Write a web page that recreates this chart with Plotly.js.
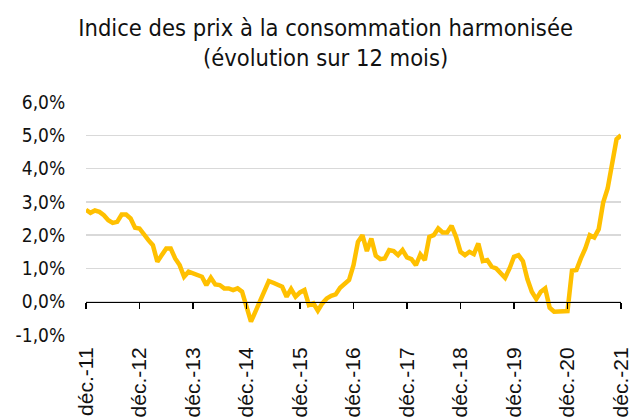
<!DOCTYPE html>
<html>
<head>
<meta charset="utf-8">
<script src="https://cdn.plot.ly/plotly-3.0.1.min.js"></script>
<style>html,body{margin:0;padding:0;background:#fff;}#chart{width:641px;height:419px;}</style>
</head>
<body>
<div id="chart"></div>
<script>
// Monthly values, déc. 2011 → déc. 2021 (évolution sur 12 mois, %)
const v2011 = [2.76];
const v2012 = [2.67, 2.74, 2.70, 2.60, 2.45, 2.37, 2.40, 2.62, 2.62, 2.50, 2.22, 2.20];
const v2013 = [2.00, 1.85, 1.70, 1.20, 1.40, 1.60, 1.60, 1.30, 1.10, 0.75, 0.90, 0.85];
const v2014 = [0.80, 0.75, 0.50, 0.72, 0.52, 0.50, 0.40, 0.40, 0.35, 0.40, 0.30, -0.15];
const v2015 = [-0.60, -0.30, 0.00, 0.30, 0.62, 0.57, 0.52, 0.45, 0.15, 0.38, 0.15, 0.28];
const v2016 = [0.35, -0.10, -0.05, -0.27, -0.05, 0.10, 0.18, 0.22, 0.42, 0.52, 0.65, 1.10];
const v2017 = [1.80, 2.00, 1.52, 1.90, 1.38, 1.28, 1.30, 1.55, 1.52, 1.40, 1.55, 1.33];
const v2018 = [1.28, 1.10, 1.42, 1.25, 1.95, 2.00, 2.20, 2.08, 2.08, 2.28, 1.95, 1.50];
const v2019 = [1.40, 1.50, 1.43, 1.75, 1.22, 1.25, 1.05, 1.00, 0.85, 0.72, 1.00, 1.35];
const v2020 = [1.40, 1.22, 0.68, 0.30, 0.08, 0.30, 0.40, -0.18, -0.30, -0.30, -0.28, -0.28];
const v2021 = [0.93, 0.95, 1.30, 1.60, 2.00, 1.93, 2.18, 2.98, 3.40, 4.07, 4.88, 5.00];

const values = [].concat(v2011, v2012, v2013, v2014, v2015, v2016, v2017, v2018, v2019, v2020, v2021);
const tickLabels = ['déc.-11','déc.-12','déc.-13','déc.-14','déc.-15','déc.-16','déc.-17','déc.-18','déc.-19','déc.-20','déc.-21'];
const yTickVals = [-1, 0, 1, 2, 3, 4, 5, 6];
const yTickText = ['-1,0%','0,0%','1,0%','2,0%','3,0%','4,0%','5,0%','6,0%'];

// month index (0 = déc. 2011)
const xIdx = values.map((_, i) => i);
const xTickVals = tickLabels.map((_, i) => i * 12);

const trace = {
  x: xIdx, y: values, type: 'scatter', mode: 'lines',
  line: {color: '#FFC000', width: 4.5}, hoverinfo: 'skip', showlegend: false
};
const axisTrace = {
  x: [0, values.length - 1], y: [0, 0], xaxis: 'x2', type: 'scatter', mode: 'lines',
  line: {color: 'rgba(0,0,0,0)', width: 0}, hoverinfo: 'skip', showlegend: false
};

const fnt = 'DejaVu Sans Condensed, DejaVu Sans, sans-serif';
const layout = {
  width: 641, height: 419,
  margin: {l: 86, r: 20, t: 102, b: 84, pad: 0},
  paper_bgcolor: '#fff', plot_bgcolor: '#fff',
  title: {
    text: 'Indice des prix à la consommation harmonisée<br>(évolution sur 12 mois)',
    font: {family: fnt, size: 23.5, color: '#111'},
    x: 0.508, xanchor: 'center', y: 0.9145, yanchor: 'top', yref: 'container'
  },
  xaxis: {
    range: [0, values.length - 1],
    tickvals: xTickVals, ticktext: tickLabels, tickangle: -90,
    showgrid: false, zeroline: false, showline: false,
    ticks: 'outside', ticklen: 3, tickcolor: 'rgba(0,0,0,0)',
    tickfont: {family: 'Liberation Sans, Arial, sans-serif', size: 21, color: '#111'}
  },
  xaxis2: {
    range: [0, values.length - 1], overlaying: 'x', anchor: 'free', position: 1/7,
    tickvals: xTickVals, showticklabels: false,
    showgrid: false, zeroline: false, showline: true, linecolor: '#000', linewidth: 1.5,
    ticks: 'outside', ticklen: 6, tickwidth: 1.5, tickcolor: '#000'
  },
  yaxis: {
    range: [-1, 6], tickvals: yTickVals, ticktext: yTickText,
    showgrid: true, gridcolor: '#d9d9d9', gridwidth: 1.5,
    zeroline: false, showline: false,
    ticks: 'outside', ticklen: 16, tickcolor: 'rgba(0,0,0,0)',
    tickfont: {family: fnt, size: 19, color: '#111'}
  }
};

Plotly.newPlot('chart', [trace, axisTrace], layout, {staticPlot: true, displayModeBar: false});
</script>
</body>
</html>
